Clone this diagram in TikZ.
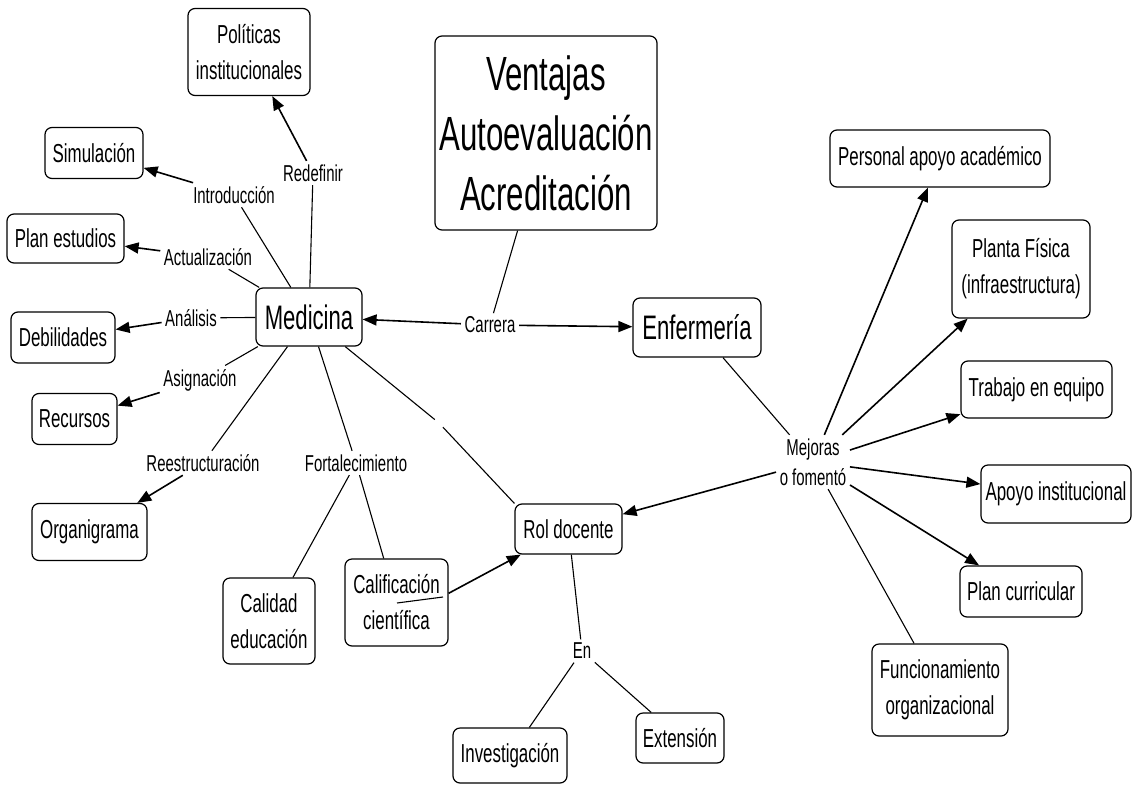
\documentclass[tikz,border=0pt]{standalone}
\usepackage{fontspec}
\setmainfont[FakeStretch=0.65]{Liberation Sans}
\usetikzlibrary{arrows.meta}
\begin{document}
\begin{tikzpicture}[x=1pt,y=-1pt,
  cbox/.style={draw, rounded corners=7pt, line width=1.2pt, inner sep=0pt, align=center, font=\fontsize{26}{36}\selectfont},
  bigtxt/.style={font=\fontsize{34}{40}\selectfont},
  lbl/.style={inner sep=3.5pt, align=center, font=\fontsize{23}{30}\selectfont},
  ln/.style={line width=1.1pt},
  arr/.style={line width=1.6pt, -{Triangle[length=14pt,width=11pt]}},
]
\useasboundingbox (0,0) rectangle (1134,784);

% concept boxes
\node[cbox, minimum width=122pt, minimum height=87pt] (pol) at (249,52) {Políticas\\institucionales};
\node[cbox, minimum width=98pt, minimum height=51pt] (sim) at (94,153) {Simulación};
\node[cbox, minimum width=117pt, minimum height=49pt] (plan) at (65.5,238.5) {Plan estudios};
\node[cbox, minimum width=104pt, minimum height=51pt] (deb) at (63,337.5) {Debilidades};
\node[cbox, minimum width=85pt, minimum height=51pt] (rec) at (74.5,419) {Recursos};
\node[cbox, minimum width=115pt, minimum height=57pt] (org) at (89.5,532) {Organigrama};
\node[cbox, bigtxt, minimum width=106pt, minimum height=58pt] (med) at (309,317) {Medicina};
\node[cbox, font=\fontsize{48}{60}\selectfont, minimum width=222pt, minimum height=194pt] (ven) at (546,133) {Ventajas\\Autoevaluación\\Acreditación};
\node[cbox, bigtxt, minimum width=128pt, minimum height=59pt] (enf) at (697,327.5) {Enfermería};
\node[cbox, minimum width=220pt, minimum height=57pt] (per) at (940,158.5) {Personal apoyo académico};
\node[cbox, minimum width=138pt, minimum height=98pt] (pla) at (1021,269) {Planta Física\\(infraestructura)};
\node[cbox, minimum width=151pt, minimum height=57pt] (tra) at (1036.5,389.5) {Trabajo en equipo};
\node[cbox, minimum width=150pt, minimum height=58pt] (apo) at (1056,494) {Apoyo institucional};
\node[cbox, minimum width=122pt, minimum height=51pt] (pcu) at (1021,591.5) {Plan curricular};
\node[cbox, minimum width=136pt, minimum height=92pt] (fun) at (940,690) {Funcionamiento\\organizacional};
\node[cbox, minimum width=107pt, minimum height=50pt] (rol) at (568.5,529) {Rol docente};
\node[cbox, minimum width=92pt, minimum height=86pt] (cal) at (269,621) {Calidad\\educación};
\node[cbox, minimum width=103pt, minimum height=87pt] (cie) at (396.5,602.5) {Calificación\\científica};
\node[cbox, minimum width=114pt, minimum height=55pt] (inv) at (510,755.5) {Investigación};
\node[cbox, minimum width=88pt, minimum height=50pt] (ext) at (680,738) {Extensión};

% linking phrases
\node[lbl] (redef) at (313,173) {Redefinir};
\node[lbl] (intro) at (234,195) {Introducción};
\node[lbl] (actu) at (208,257) {Actualización};
\node[lbl] (anal) at (191,318) {Análisis};
\node[lbl] (asig) at (200,380) {Asignación};
\node[lbl] (rees) at (203,463) {Reestructuración};
\node[lbl] (fort) at (356,463) {Fortalecimiento};
\node[lbl] (carr) at (490,325) {Carrera};
\node[lbl] (en) at (582,651) {En};
\node[lbl] (mej) at (813,462) {Mejoras\\o fomentó};
\node[inner sep=0pt, minimum size=8pt] (emp) at (439,423) {};

% Medicina side
\draw[ln] (med) -- (redef);
\draw[arr] (redef) -- (pol);
\draw[ln] (med) -- (intro);
\draw[arr] (intro) -- (sim);
\draw[ln] (med) -- (actu);
\draw[arr] (actu) -- (plan);
\draw[ln] (med) -- (anal);
\draw[arr] (anal) -- (deb);
\draw[ln] (med) -- (asig);
\draw[arr] (asig) -- (rec);
\draw[ln] (med) -- (rees);
\draw[arr] (rees) -- (org);
\draw[ln] (med) -- (fort);
\draw[ln] (fort) -- (cal);
\draw[ln] (fort) -- (cie);
\draw[ln] (med) -- (emp);
\draw[ln] (emp) -- (rol.north west);
\draw[arr] (cie.10) -- (rol);

% centre
\draw[ln] (ven) -- (carr);
\draw[arr] (carr) -- (med);
\draw[arr] (carr) -- (enf);

% Enfermeria side
\draw[ln] (enf) -- (mej);
\draw[arr] (mej) -- (per);
\draw[arr] (mej) -- (pla);
\draw[arr] (mej) -- (tra);
\draw[arr] (mej) -- (apo);
\draw[arr] (mej) -- (pcu);
\draw[ln] (mej) -- (fun);
\draw[arr] (mej) -- (rol);

% Rol docente
\draw[ln] (rol) -- (en);
\draw[ln] (en) -- (inv);
\draw[ln] (en) -- (ext);

% stray stroke under "Calificación"
\draw[line width=1.1pt] (397,603) -- (443,597);
\end{tikzpicture}
\end{document}
